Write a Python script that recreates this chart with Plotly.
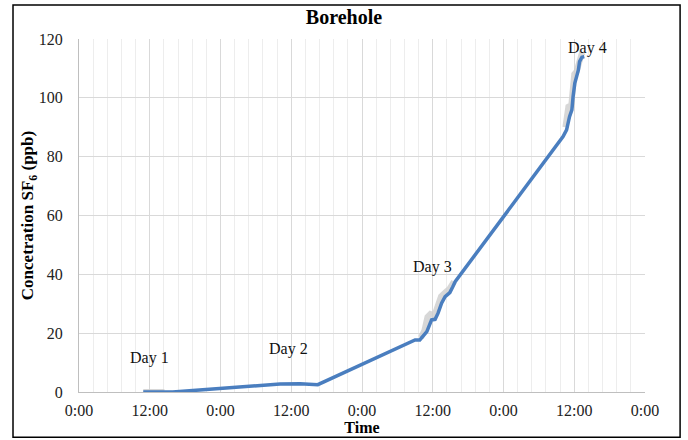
import plotly.graph_objects as go

# Main series (hours since 0:00 of day 0, concentration ppb)
hours = [10.9, 15.9, 34.1, 37.5, 40.5, 57.0, 57.8, 59.0, 59.8, 60.4, 60.9, 61.5,
         62.1, 62.9, 63.4, 63.8, 82.1, 82.7, 83.2, 83.6, 83.8, 84.1, 84.4, 84.7,
         84.9, 85.3, 85.7]
conc = [0.0, 0.0, 2.7, 2.8, 2.5, 17.7, 17.7, 20.5, 24.5, 24.7, 26.8, 30.2,
        32.4, 33.8, 35.8, 37.5, 86.8, 89.1, 93.6, 95.9, 100.4, 105.0, 107.2, 109.5,
        112.3, 113.8, 114.0]

# Light grey band (spread of readings), only where it shows beside the line
band_hours = [10.9, 14.5, None,
              58.0, 58.6, 59.1, 59.6, 60.3, 60.9, 61.4, 62.2, 62.8, 63.6, None,
              82.5, 83.0, 83.5, 83.8, 84.0, 84.4, 84.7, 85.2, 85.6]
band_conc = [0.0, 0.0, None,
             18.5, 21.0, 25.5, 26.5, 26.0, 29.5, 32.5, 34.0, 35.0, 37.5, None,
             90.0, 97.0, 97.5, 104.0, 108.0, 109.0, 112.0, 114.5, 114.0]

tick_hours = [0, 12, 24, 36, 48, 60, 72, 84, 96]
tick_labels = ["0:00", "12:00", "0:00", "12:00", "0:00", "12:00", "0:00", "12:00", "0:00"]

day_labels = ["Day 1", "Day 2", "Day 3", "Day 4"]
day_x = [11.9, 35.6, 59.9, 86.2]
day_y = [11.4, 14.5, 42.4, 117.0]

font_family = "Liberation Serif, Times New Roman, serif"

fig = go.Figure()
fig.add_trace(go.Scatter(x=band_hours, y=band_conc, mode="lines",
                         line=dict(color="rgba(205,205,205,0.8)", width=6),
                         connectgaps=False, hoverinfo="skip", showlegend=False))
fig.add_trace(go.Scatter(x=hours, y=conc, mode="lines",
                         line=dict(color="#4A7EBF", width=3.5),
                         showlegend=False))

for t, xx, yy in zip(day_labels, day_x, day_y):
    fig.add_annotation(x=xx, y=yy, text=t, showarrow=False,
                       font=dict(family=font_family, size=16, color="#111"))

# outer chart border
fig.add_shape(type="rect", xref="paper", yref="paper",
              x0=-0.1166, x1=1.062, y0=-0.1285, y1=1.096,
              line=dict(color="black", width=1.5), layer="above")

fig.update_layout(
    width=688, height=440,
    margin=dict(l=79, r=43, t=39, b=48),
    paper_bgcolor="white", plot_bgcolor="white",
    font=dict(family=font_family, size=16, color="#222"),
    title=dict(text="<b>Borehole</b>", x=0.5, xanchor="center",
               y=0.962, yanchor="middle",
               font=dict(family=font_family, size=20, color="black")),
    xaxis=dict(range=[0, 96], tickmode="array", tickvals=tick_hours,
               ticktext=tick_labels, showgrid=True, gridcolor="#d9d9d9",
               gridwidth=1, automargin=False,
               minor=dict(dtick=2.4, tick0=0, showgrid=True, gridcolor="#ededed", gridwidth=1),
               showline=True, linecolor="#bfbfbf", linewidth=1, mirror=False,
               zeroline=False, ticks="", ticklabelstandoff=4,
               tickfont=dict(family=font_family, size=16, color="#222"),
               title=dict(text="<b>Time</b>", standoff=0,
                          font=dict(family=font_family, size=16, color="black"))),
    yaxis=dict(range=[0, 120], dtick=20, showgrid=True, gridcolor="#d9d9d9",
               gridwidth=1, showline=True, linecolor="#bfbfbf", linewidth=1,
               zeroline=False, ticks="", ticklabelstandoff=12, automargin=False,
               tickfont=dict(family=font_family, size=16, color="#222"),
               title=dict(text="<b>Concetration SF<sub>6</sub> (ppb)</b>", standoff=0,
                          font=dict(family=font_family, size=17, color="black"))),
)

fig.write_html("out.html", config={"displayModeBar": False},
               post_script="document.body.style.margin='0';document.body.style.overflow='hidden';")
